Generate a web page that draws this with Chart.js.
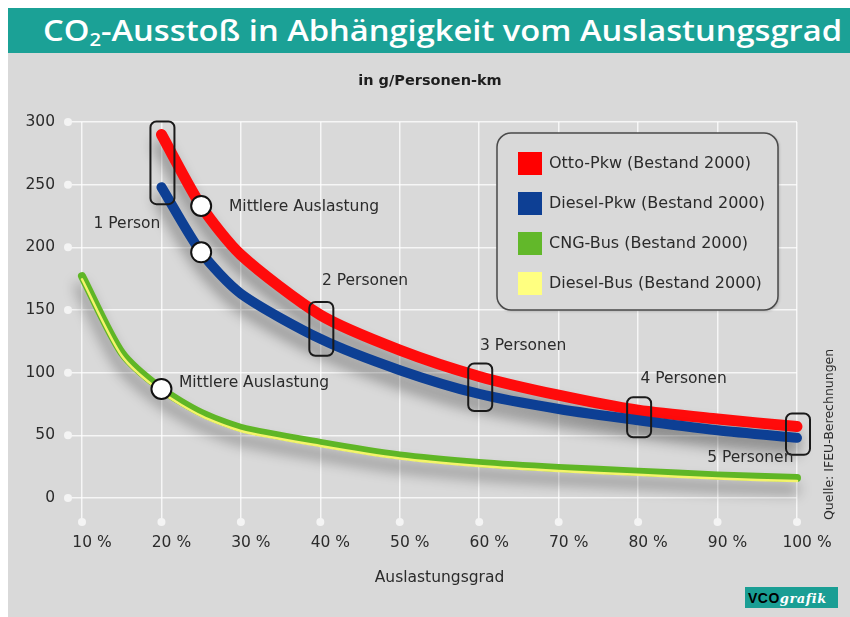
<!DOCTYPE html>
<html>
<head>
<meta charset="utf-8">
<script src="https://cdn.jsdelivr.net/npm/chart.js@4.4.1/dist/chart.umd.min.js"></script>
<style>
  html, body { margin: 0; padding: 0; background: #fff; }
  body { width: 850px; height: 617px; position: relative; overflow: hidden; }
  #bar { position: absolute; left: 8px; top: 8px; width: 842px; height: 45px; background: #1ba196; }
  #title { position: absolute; left: 43px; top: 16px; font: 600 28px/28px "Open Sans"; color: #fff; white-space: nowrap; transform-origin: 0 0; }
  #title sub { font-size: 0.62em; vertical-align: -0.28em; line-height: 0; }
  #panel { position: absolute; left: 8px; top: 53px; width: 842px; height: 564px; background: #d9d9d9; }
  #panel canvas { position: absolute; left: 0; top: 0; }
  #sub { position: absolute; left: 0; width: 860px; top: 71px; text-align: center; font: bold 14.5px/18px "DejaVu Sans"; color: #1e1e1e; }
  #logo { position: absolute; left: 745px; top: 587px; width: 93px; height: 21px; background: #1a9e94; box-sizing: border-box; padding-left: 3px; white-space: nowrap; line-height: 21px; }
  #logo b { font: 900 14px "Liberation Sans"; color: #000; letter-spacing: 0.5px; }
  #logo i { font: italic bold 13px "DejaVu Serif"; color: #fff; letter-spacing: 0.5px; }
</style>
</head>
<body>
<div id="bar"></div>
<div id="title">CO<sub>2</sub>-Ausstoß in Abhängigkeit vom Auslastungsgrad</div>
<div id="panel"><canvas id="chart" width="842" height="564"></canvas></div>
<div id="sub">in g/Personen-km</div>
<div id="logo"><b>VCO</b><i>grafik</i></div>
<script>
// Auslastungsgrad in %
const carX = [20, 25, 30, 40, 50, 60, 70, 80, 90, 100];
const busX = [10, 15, 20, 25, 30, 40, 50, 60, 70, 80, 90, 100];

// g CO2 pro Personen-km
const ottoPkw = [290, 233, 194, 146, 118, 97, 82, 70, 63, 57];
const dieselPkw = [248, 196, 163, 127, 102, 83, 71, 62, 54, 48];
const cngBus = [177, 116, 87, 68, 56, 44, 34, 28, 24, 21, 18, 16];
const dieselBus = [174.5, 113.5, 84.5, 65.5, 53.5, 41.5, 31.5, 25.5, 21.5, 18.5, 15.5, 13.5];

const xTickLabels = ["10 %", "20 %", "30 %", "40 %", "50 %", "60 %", "70 %", "80 %", "90 %", "100 %"];
const yTickLabels = ["0", "50", "100", "150", "200", "250", "300"];

// 1..5 Personen im Pkw
const personX = [20, 40, 60, 80, 100];
const notes = [
    { text: "1 Person", x: 15.66, y: 219, align: "center" },
    { text: "Mittlere Auslastung", x: 28.5, y: 232, align: "left" },
    { text: "2 Personen", x: 40.2, y: 173, align: "left" },
    { text: "3 Personen", x: 60.1, y: 121, align: "left" },
    { text: "4 Personen", x: 80.3, y: 95, align: "left" },
    { text: "5 Personen", x: 88.7, y: 32, align: "left" },
    { text: "Mittlere Auslastung", x: 22.2, y: 92, align: "left" },
];

const FONT = "DejaVu Sans";
const TXT = "#2b2b2b";
const GRID = "rgba(255, 255, 255, 0.75)";

const title = document.getElementById("title");
title.style.transform = "scaleX(" + (799 / title.getBoundingClientRect().width) + ")";

const pts = (xs, ys) => xs.map((x, i) => ({ x: x, y: ys[i] }));

const meanPoints = [
    { x: 25, y: ottoPkw[carX.indexOf(25)] },
    { x: 25, y: dieselPkw[carX.indexOf(25)] },
    { x: 20, y: cngBus[busX.indexOf(20)] },
];

function roundRect(ctx, x, y, w, h, r) {
    ctx.beginPath();
    ctx.moveTo(x + r, y);
    ctx.arcTo(x + w, y, x + w, y + h, r);
    ctx.arcTo(x + w, y + h, x, y + h, r);
    ctx.arcTo(x, y + h, x, y, r);
    ctx.arcTo(x, y, x + w, y, r);
    ctx.closePath();
}

const shadowPlugin = {
    id: "lineShadow",
    beforeDatasetDraw(chart, args) {
        if (!chart.data.datasets[args.index].shadow)
            return;
        const ctx = chart.ctx;
        ctx.save();
        ctx.shadowColor = "rgba(0, 0, 0, 0.4)";
        ctx.shadowBlur = 14;
        ctx.shadowOffsetX = -2;
        ctx.shadowOffsetY = 11;
    },
    afterDatasetDraw(chart, args) {
        if (chart.data.datasets[args.index].shadow)
            chart.ctx.restore();
    }
};

const decorPlugin = {
    id: "decor",
    beforeDatasetsDraw(chart) {
        const { ctx, chartArea, scales: { x, y } } = chart;
        ctx.save();
        ctx.fillStyle = "#f4f4f4";
        x.ticks.forEach(t => {
            ctx.beginPath();
            ctx.arc(x.getPixelForValue(t.value), chartArea.bottom + 24, 4, 0, Math.PI * 2);
            ctx.fill();
        });
        y.ticks.forEach(t => {
            ctx.beginPath();
            ctx.arc(chartArea.left - 14, y.getPixelForValue(t.value), 4, 0, Math.PI * 2);
            ctx.fill();
        });
        ctx.restore();
    },
    afterDatasetsDraw(chart) {
        const { ctx, chartArea, scales: { x, y } } = chart;
        ctx.save();

        // Boxes around 1..5 Personen
        ctx.strokeStyle = "#1a1a1a";
        ctx.lineWidth = 2;
        personX.forEach(px => {
            const i = carX.indexOf(px);
            const cx = x.getPixelForValue(px) + 1;
            const top = y.getPixelForValue(ottoPkw[i]) - 13;
            const bottom = y.getPixelForValue(dieselPkw[i]) + 17;
            roundRect(ctx, cx - 12, top, 24, bottom - top, 6);
            ctx.stroke();
        });

        // notes
        ctx.fillStyle = TXT;
        ctx.font = "15.5px '" + FONT + "'";
        ctx.textBaseline = "middle";
        notes.forEach(n => {
            ctx.textAlign = n.align;
            ctx.fillText(n.text, x.getPixelForValue(n.x), y.getPixelForValue(n.y));
        });

        // legend
        const lw = 281, lh = 177;
        const lx = chartArea.right - 19 - lw;
        const ly = chartArea.top + 11;
        ctx.save();
        ctx.shadowColor = "rgba(0, 0, 0, 0.25)";
        ctx.shadowBlur = 3;
        ctx.shadowOffsetX = 1;
        ctx.shadowOffsetY = 1;
        roundRect(ctx, lx, ly, lw, lh, 14);
        ctx.fillStyle = "#d9d9d9";
        ctx.fill();
        ctx.restore();
        roundRect(ctx, lx, ly, lw, lh, 14);
        ctx.strokeStyle = "#4a4a4a";
        ctx.lineWidth = 1.5;
        ctx.stroke();
        ctx.font = "16px '" + FONT + "'";
        ctx.textAlign = "left";
        chart.data.datasets.filter(d => d.legendColor).forEach((d, i) => {
            const cy = ly + 31 + i * 40;
            ctx.fillStyle = d.legendColor;
            ctx.fillRect(lx + 21, cy - 12, 24, 23);
            ctx.fillStyle = TXT;
            ctx.fillText(d.label, lx + 52, cy);
        });

        // source
        ctx.translate(chartArea.right + 33, chartArea.bottom + 22);
        ctx.rotate(-Math.PI / 2);
        ctx.font = "12.5px '" + FONT + "'";
        ctx.fillStyle = TXT;
        ctx.fillText("Quelle: IFEU-Berechnungen", 0, 0);
        ctx.restore();
    }
};

const lineDefaults = { pointRadius: 0, pointHoverRadius: 0, clip: false };

new Chart(document.getElementById("chart"), {
    type: "line",
    data: {
        datasets: [
            Object.assign({
                label: "Otto-Pkw (Bestand 2000)",
                data: pts(carX, ottoPkw),
                borderColor: "#ff0b0b",
                legendColor: "#ff0000",
                borderWidth: 11,
                order: 4,
                shadow: true,
            }, lineDefaults),
            Object.assign({
                label: "Diesel-Pkw (Bestand 2000)",
                data: pts(carX, dieselPkw),
                borderColor: "#0d3f94",
                legendColor: "#0d3f94",
                borderWidth: 10,
                order: 3,
                shadow: true,
            }, lineDefaults),
            Object.assign({
                label: "CNG-Bus (Bestand 2000)",
                data: pts(busX, cngBus),
                borderColor: "#5fb626",
                legendColor: "#62b82a",
                borderWidth: 8,
                order: 2,
                shadow: true,
            }, lineDefaults),
            Object.assign({
                label: "Diesel-Bus (Bestand 2000)",
                data: pts(busX, dieselBus),
                borderColor: "#f4f46a",
                legendColor: "#ffff80",
                borderWidth: 2.5,
                order: 1,
            }, lineDefaults),
            {
                label: "Mittlere Auslastung",
                data: meanPoints,
                showLine: false,
                pointRadius: 10,
                pointHoverRadius: 10,
                pointBackgroundColor: "#ffffff",
                pointBorderColor: "#111111",
                pointBorderWidth: 2,
                order: 0,
                clip: false,
            },
        ]
    },
    options: {
        responsive: false,
        animation: false,
        devicePixelRatio: 1,
        events: [],
        layout: {
            padding: { top: 69, right: 53, bottom: 0, left: 0 }
        },
        elements: {
            line: {
                tension: 0.25,
                borderCapStyle: "round",
                borderJoinStyle: "round",
            }
        },
        plugins: {
            legend: { display: false },
            tooltip: { enabled: false },
        },
        scales: {
            x: {
                type: "linear",
                min: 10,
                max: 100,
                afterFit: s => { s.height = 119; },
                border: { display: false },
                grid: { color: GRID, lineWidth: 1.5, tickLength: 24 },
                ticks: {
                    stepSize: 10,
                    autoSkip: false,
                    maxRotation: 0,
                    padding: 12,
                    labelOffset: 10,
                    color: TXT,
                    font: { family: FONT, size: 15.5 },
                    callback: (v, i) => xTickLabels[i],
                },
                title: {
                    display: true,
                    text: "Auslastungsgrad",
                    color: TXT,
                    font: { family: FONT, size: 15.5 },
                    padding: { top: 0, bottom: 30 },
                }
            },
            y: {
                min: 0,
                max: 300,
                afterFit: s => { s.width = 74; },
                border: { display: false },
                grid: { color: GRID, lineWidth: 1.5, tickLength: 14 },
                ticks: {
                    stepSize: 50,
                    padding: 13,
                    color: TXT,
                    font: { family: FONT, size: 15.5 },
                    callback: (v, i) => yTickLabels[i],
                }
            }
        }
    },
    plugins: [shadowPlugin, decorPlugin]
});
</script>
</body>
</html>
